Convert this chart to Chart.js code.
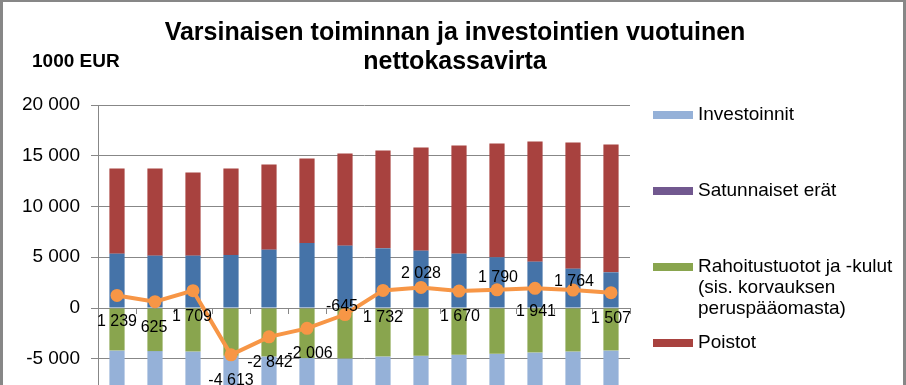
<!DOCTYPE html>
<html>
<head>
<meta charset="utf-8">
<script src="https://cdn.jsdelivr.net/npm/chart.js@4.4.1/dist/chart.umd.min.js"></script>
<style>
  html, body { margin: 0; padding: 0; overflow: hidden; background: #fff; }
  #wrap { width: 906px; height: 385px; overflow: hidden; }
</style>
</head>
<body>
<div id="wrap"><canvas id="kassavirta" width="906" height="540"></canvas></div>
<script>
// Vuodet (alareuna ei näy kuvassa)
const vuodet = ["2013", "2014", "2015", "2016", "2017", "2018", "2019",
                "2020", "2021", "2022", "2023", "2024", "2025", "2026"];

// 1000 EUR
const toimintakate = [5355, 5160, 5160, 5225, 5750, 6410, 6145, 5880, 5650, 5355, 4995, 4565, 3875, 3515];
const poistot = [8385, 8580, 8185, 8515, 8385, 8315, 9070, 9630, 10160, 10650, 11210, 11835, 12425, 12590];
const rahoitus = [-4180, -4245, -4280, -4705, -4770, -4935, -4965, -4770, -4705, -4605, -4505, -4375, -4280, -4180];
const investoinnit = [-8320, -8865, -7355, -13650, -12205, -11795, -10895, -9010, -9075, -9730, -9905, -10085, -10255, -10420];
const satunnaiset = [0, 0, 0, 0, 0, 0, 0, 0, 0, 0, 0, 0, 0, 0];
const nettokassavirta = [1239, 625, 1709, -4613, -2842, -2006, -645, 1732, 2028, 1670, 1790, 1941, 1764, 1507];

const yMin = -20000;
const yMax = 20000;
const yAskel = 5000;

// arvojen paikka pisteeseen nähden (dx, dy)
const arvoSiirrot = [[0, 26], [-1, 26], [-1, 26], [0, 26], [1, 26], [3, 25], [-3, -8],
                     [0, 27], [0, -14], [1, 26], [1, -12], [1, 23], [1, -9], [0, 26]];

const FONTTI = "'Liberation Sans', Arial, sans-serif";
Chart.defaults.font.family = FONTTI;
Chart.defaults.color = "#000";

function muotoile(n) {
  const s = String(Math.abs(n)).replace(/\B(?=(\d{3})+(?!\d))/g, " ");
  return (n < 0 ? "-" : "") + s;
}

const varit = {
  toimintakate: "#4573A8",
  poistot: "#A8423F",
  rahoitus: "#89A54E",
  investoinnit: "#95B1D8",
  satunnaiset: "#71588F",
  netto: "#F79646"
};

// selitteen järjestys ja rivit
const selite = [
  { rivit: ["Investoinnit"], vari: varit.investoinnit },
  { rivit: ["Satunnaiset erät"], vari: varit.satunnaiset },
  { rivit: ["Rahoitustuotot ja -kulut", "(sis. korvauksen", "peruspääomasta)"], vari: varit.rahoitus },
  { rivit: ["Poistot"], vari: varit.poistot },
  { rivit: ["Toimintakate"], vari: varit.toimintakate },
  { rivit: ["Nettokassavirta"], vari: varit.netto, viiva: true }
];

const koristeet = {
  id: "koristeet",
  beforeDraw(chart) {
    const ctx = chart.ctx;
    ctx.save();
    ctx.fillStyle = "#fff";
    ctx.fillRect(0, 0, chart.width, chart.height);
    ctx.fillStyle = "#878787";
    ctx.fillRect(0, 0, chart.width, 2);
    ctx.fillRect(0, 0, 3, chart.height);
    ctx.fillRect(chart.width - 3, 0, 3, chart.height);
    ctx.restore();
  },
  afterDatasetsDraw(chart) {
    const ctx = chart.ctx;
    ctx.save();
    // viivan arvot
    const meta = chart.getDatasetMeta(5);
    ctx.font = "16px " + FONTTI;
    ctx.fillStyle = "#000";
    ctx.textAlign = "center";
    ctx.textBaseline = "middle";
    meta.data.forEach((p, i) => {
      ctx.fillText(muotoile(nettokassavirta[i]), p.x + arvoSiirrot[i][0], p.y + arvoSiirrot[i][1]);
    });
    ctx.restore();
  },
  afterDraw(chart) {
    const ctx = chart.ctx;
    ctx.save();
    ctx.fillStyle = "#000";
    ctx.textBaseline = "middle";
    // otsikko
    ctx.font = "bold 25px " + FONTTI;
    ctx.textAlign = "center";
    ctx.fillText("Varsinaisen toiminnan ja investointien vuotuinen", 455, 33);
    ctx.fillText("nettokassavirta", 455, 62);
    // yksikkö
    ctx.font = "bold 19px " + FONTTI;
    ctx.textAlign = "left";
    ctx.fillText("1000 EUR", 32, 62);
    // selite
    ctx.font = "19px " + FONTTI;
    const x0 = chart.chartArea.right + 23;
    selite.forEach((s, i) => {
      const y = 115 + i * 76;
      ctx.fillStyle = s.vari;
      if (s.viiva) {
        ctx.fillRect(x0, y - 2, 40, 4);
        ctx.beginPath();
        ctx.arc(x0 + 20, y, 6.5, 0, Math.PI * 2);
        ctx.fill();
      } else {
        ctx.fillRect(x0, y - 4, 40, 8);
      }
      ctx.fillStyle = "#000";
      s.rivit.forEach((r, j) => ctx.fillText(r, x0 + 45, y + j * 21));
    });
    ctx.restore();
  }
};

const palkki = (label, data, vari) => ({
  type: "bar",
  label: label,
  data: data,
  backgroundColor: vari,
  stack: "palkit",
  order: 1,
  barPercentage: 0.4,
  categoryPercentage: 1
});

new Chart(document.getElementById("kassavirta"), {
  data: {
    labels: vuodet,
    datasets: [
      palkki("Toimintakate", toimintakate, varit.toimintakate),
      palkki("Poistot", poistot, varit.poistot),
      palkki("Rahoitustuotot ja -kulut (sis. korvauksen peruspääomasta)", rahoitus, varit.rahoitus),
      palkki("Investoinnit", investoinnit, varit.investoinnit),
      palkki("Satunnaiset erät", satunnaiset, varit.satunnaiset),
      {
        type: "line",
        label: "Nettokassavirta",
        data: nettokassavirta,
        stack: "viiva",
        order: 0,
        borderColor: varit.netto,
        backgroundColor: varit.netto,
        borderWidth: 4,
        pointRadius: 6.5,
        pointBorderWidth: 0,
        tension: 0
      }
    ]
  },
  options: {
    responsive: false,
    animation: false,
    layout: { padding: { left: 0, right: 276, top: 105, bottom: 29 } },
    plugins: {
      legend: { display: false },
      title: { display: false },
      tooltip: { enabled: false }
    },
    scales: {
      x: {
        type: "category",
        stacked: true,
        offset: true,
        position: { y: 0 },
        grid: { offset: true, drawOnChartArea: false, tickLength: 5, color: "#878787" },
        border: { color: "#878787" },
        ticks: { display: false }
      },
      y: {
        stacked: true,
        min: yMin,
        max: yMax,
        afterFit(scale) { scale.width = 98; },
        ticks: {
          stepSize: yAskel,
          padding: 11,
          font: { size: 19 },
          color: "#000",
          callback: (v) => muotoile(v)
        },
        grid: { color: "#878787", tickLength: 7 },
        border: { color: "#878787" }
      }
    }
  },
  plugins: [koristeet]
});
</script>
</body>
</html>
